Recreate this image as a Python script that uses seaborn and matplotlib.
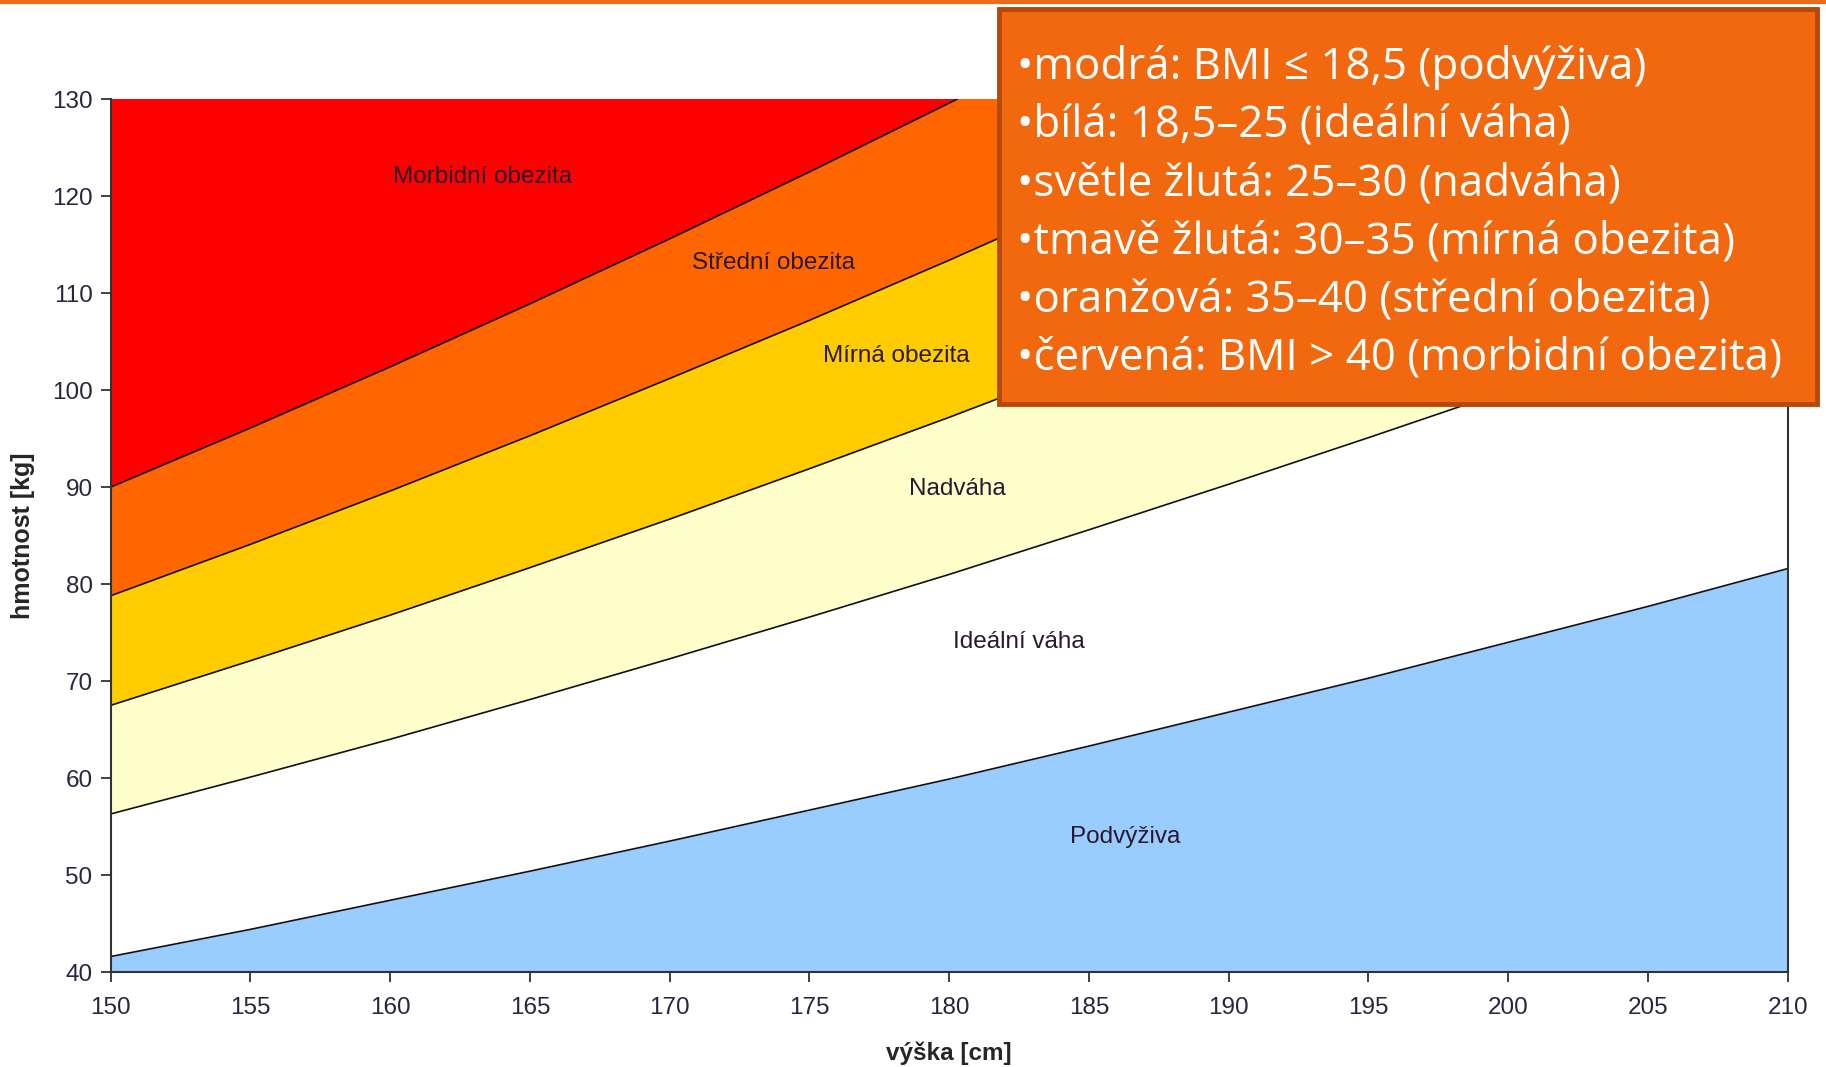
import numpy as np
import pandas as pd
import matplotlib.pyplot as plt
from matplotlib.patches import Rectangle
from matplotlib.lines import Line2D
import seaborn as sns

sns.set_style("white")
plt.rcParams['font.family'] = ['Liberation Sans', 'DejaVu Sans']
plt.rcParams['axes.unicode_minus'] = False

# výška [cm]
vyska = [150, 155, 160, 165, 170, 175, 180, 185, 190, 195, 200, 205, 210]

# hranice hmotnosti [kg]
bmi_18_5 = [41.6, 44.4, 47.4, 50.4, 53.5, 56.7, 59.9, 63.3, 66.8, 70.3, 74.0, 77.7, 81.6]
bmi_25 = [56.3, 60.1, 64.0, 68.1, 72.3, 76.6, 81.0, 85.6, 90.3, 95.1, 100.0, 105.1, 110.3]
bmi_30 = [67.5, 72.1, 76.8, 81.7, 86.7, 91.9, 97.2, 102.7, 108.3, 114.1, 120.0, 126.1, 132.3]
bmi_35 = [78.8, 84.1, 89.6, 95.3, 101.2, 107.2, 113.4, 119.8, 126.4, 133.1, 140.0, 147.1, 154.4]
bmi_40 = [90.0, 96.1, 102.4, 108.9, 115.6, 122.5, 129.6, 136.9, 144.4, 152.1, 160.0, 168.1, 176.4]

# popisky pásem (x, y v datech)
zony = ['Morbidní obezita', 'Střední obezita', 'Mírná obezita', 'Nadváha', 'Ideální váha', 'Podvýživa']
zony_x = [163.3, 173.7, 178.1, 180.3, 182.5, 186.3]
zony_y = [122.0, 113.1, 103.5, 89.8, 74.0, 53.9]

legenda = [
    '•modrá: BMI ≤ 18,5 (podvýživa)',
    '•bílá: 18,5–25 (ideální váha)',
    '•světle žlutá: 25–30 (nadváha)',
    '•tmavě žlutá: 30–35 (mírná obezita)',
    '•oranžová: 35–40 (střední obezita)',
    '•červená: BMI > 40 (morbidní obezita)',
]

df = pd.DataFrame({'vyska': vyska, '18.5': bmi_18_5, '25': bmi_25,
                   '30': bmi_30, '35': bmi_35, '40': bmi_40})

fig = plt.figure(figsize=(18.26, 10.67), dpi=100)
ax = fig.add_axes([0.0606, 0.089, 0.979 - 0.0606, 0.907 - 0.089])

y_min, y_max = 40, 130
# vrstvy odshora dolů
ax.fill_between(df['vyska'], y_min, y_max, color='#FF0000', lw=0)
ax.fill_between(df['vyska'], y_min, df['40'], color='#FF6600', lw=0)
ax.fill_between(df['vyska'], y_min, df['35'], color='#FFCC00', lw=0)
ax.fill_between(df['vyska'], y_min, df['30'], color='#FFFFCC', lw=0)
ax.fill_between(df['vyska'], y_min, df['25'], color='#FFFFFF', lw=0)
ax.fill_between(df['vyska'], y_min, df['18.5'], color='#99CCFF', lw=0)

for col in ['18.5', '25', '30', '35', '40']:
    sns.lineplot(data=df, x='vyska', y=col, ax=ax, color='#111111', linewidth=1.2)

for t, x, y in zip(zony, zony_x, zony_y):
    ax.text(x, y, t, ha='center', va='center', fontsize=17.5, color='#2a1830')

ax.set_xlim(150, 210)
ax.set_ylim(y_min, y_max)
ax.set_xticks(range(150, 211, 5))
ax.set_yticks(range(40, 131, 10))
ax.tick_params(axis='both', labelsize=17.5, labelcolor='#2a2440', direction='out',
               length=7, width=1.3, color='#333333', left=True, bottom=True)
ax.tick_params(axis='x', pad=11)
ax.tick_params(axis='y', pad=6)
ax.set_xlabel('výška [cm]', fontsize=17.5, fontweight='bold', labelpad=16)
ax.set_ylabel('hmotnost [kg]', fontsize=18, fontweight='bold', labelpad=12)

ax.spines['top'].set_visible(False)
for s in ['left', 'right', 'bottom']:
    ax.spines[s].set_color('#333333')
    ax.spines[s].set_linewidth(1.5)

# horní oranžová linka snímku
fig.add_artist(Line2D([0, 1], [0.998, 0.998], color='#EE6A1A', lw=3, transform=fig.transFigure))

# oranžový rámeček s legendou
box = Rectangle((0.547, 0.621), 0.995 - 0.547, 0.9916 - 0.621, transform=fig.transFigure,
                facecolor='#F2680E', edgecolor='#B5480A', linewidth=3.5, zorder=5)
fig.add_artist(box)
y0 = 1 - 67.5 / 1067
dy = 58.2 / 1067
for i, t in enumerate(legenda):
    fig.text(1017 / 1826, y0 - i * dy, t, ha='left', va='center', fontsize=31.6,
             color='white', family=['Open Sans', 'DejaVu Sans'], zorder=6)

fig.savefig('out.png', dpi=100)
